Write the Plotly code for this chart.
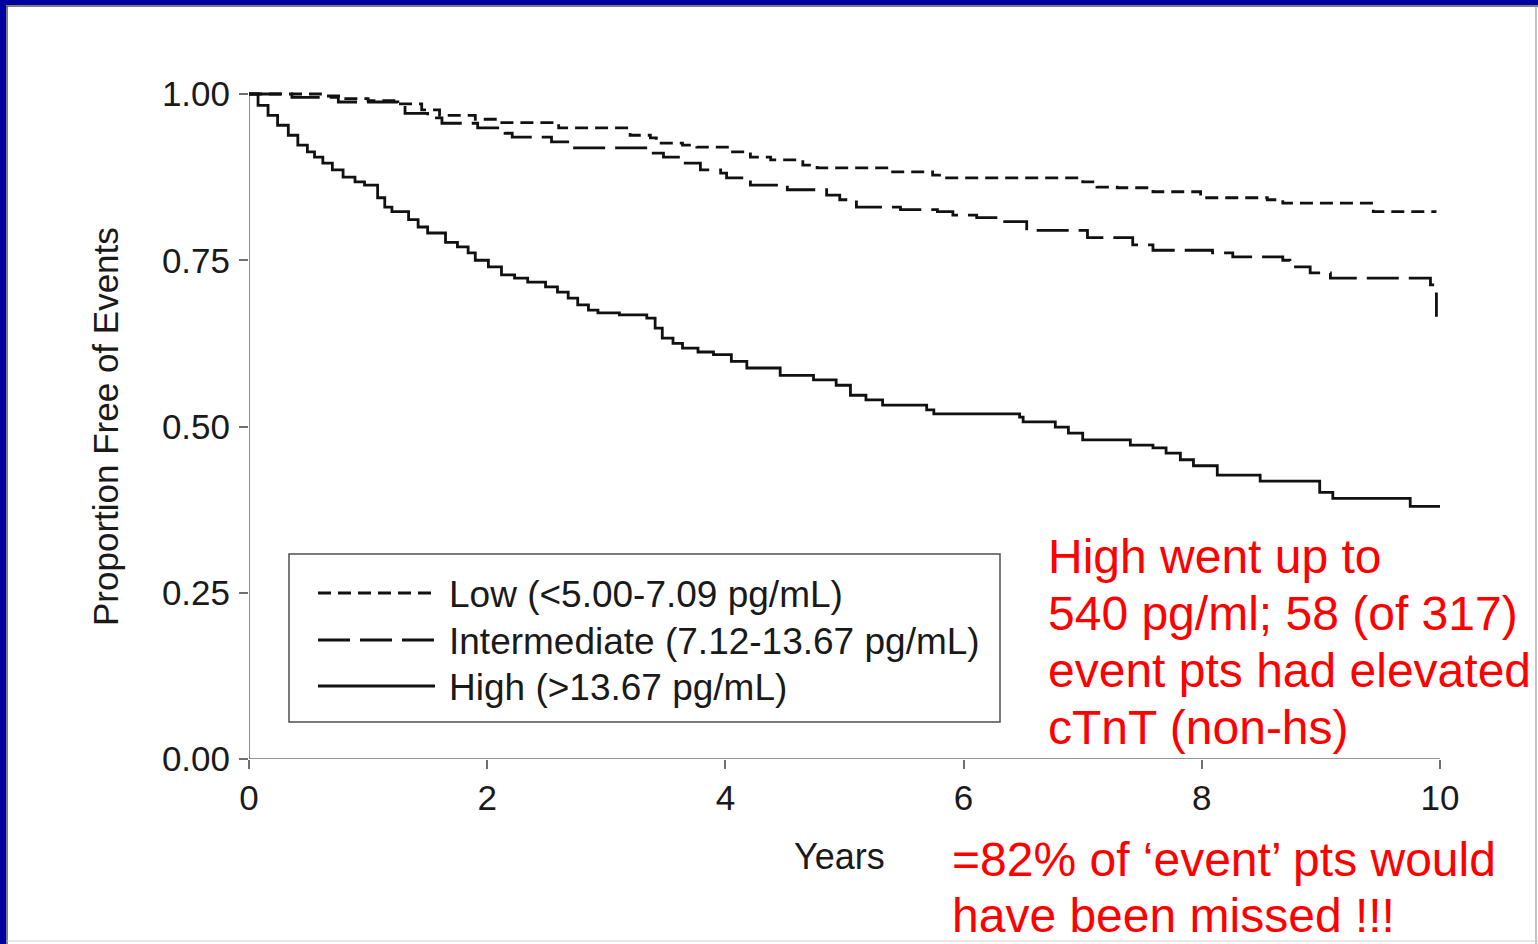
import plotly.graph_objects as go

# ---------------- data ----------------
years_ticks = [0, 2, 4, 6, 8, 10]
prop_ticks = [0.0, 0.25, 0.50, 0.75, 1.00]
prop_tick_labels = ["0.00", "0.25", "0.50", "0.75", "1.00"]

low_t = [0, 0.6, 0.8, 1.0, 1.25, 1.45, 1.6, 1.9, 2.1, 2.6, 3.2, 3.37, 3.42, 3.64, 3.76,
         4.04, 4.21, 4.38, 4.65, 4.77, 5.38, 5.74, 5.83, 7.0, 7.12, 7.29, 7.59, 7.99,
         8.55, 8.68, 9.44, 9.97]
low_s = [1.0, 0.997, 0.993, 0.99, 0.985, 0.976, 0.968, 0.962, 0.957, 0.949, 0.938, 0.934,
         0.926, 0.923, 0.920, 0.913, 0.905, 0.901, 0.893, 0.889, 0.883, 0.878, 0.874,
         0.868, 0.860, 0.859, 0.853, 0.844, 0.841, 0.836, 0.823, 0.823]

int_t = [0, 0.36, 0.75, 1.25, 1.31, 1.5, 1.62, 1.92, 2.15, 2.21, 2.54, 2.71, 3.37, 3.48,
         3.64, 3.79, 3.96, 4.01, 4.21, 4.52, 4.85, 4.96, 5.10, 5.47, 5.78, 5.91, 6.11,
         6.31, 6.53, 7.04, 7.42, 7.59, 8.09, 8.26, 8.68, 8.74, 8.91, 9.08, 9.92, 9.97]
int_s = [1.0, 0.995, 0.988, 0.980, 0.971, 0.964, 0.956, 0.949, 0.941, 0.935, 0.928, 0.919,
         0.911, 0.905, 0.896, 0.886, 0.881, 0.874, 0.863, 0.856, 0.848, 0.841, 0.830,
         0.826, 0.823, 0.818, 0.814, 0.808, 0.795, 0.784, 0.773, 0.765, 0.761, 0.755,
         0.750, 0.740, 0.731, 0.723, 0.713, 0.665]

high_t = [0, 0.076, 0.16, 0.24, 0.33, 0.41, 0.49, 0.55, 0.62, 0.70, 0.79, 0.89, 0.97,
          1.08, 1.14, 1.20, 1.34, 1.42, 1.50, 1.65, 1.75, 1.84, 1.90, 2.01, 2.12, 2.23,
          2.34, 2.49, 2.59, 2.68, 2.76, 2.85, 2.93, 3.11, 3.34, 3.41, 3.47, 3.56, 3.64,
          3.77, 3.90, 4.05, 4.18, 4.46, 4.74, 4.93, 5.05, 5.18, 5.32, 5.69, 5.75, 6.47,
          6.50, 6.77, 6.88, 7.00, 7.40, 7.59, 7.70, 7.82, 7.93, 8.13, 8.49, 8.99, 9.10,
          9.75, 10.0]
high_s = [1.0, 0.983, 0.968, 0.953, 0.938, 0.923, 0.913, 0.905, 0.896, 0.886, 0.875,
          0.868, 0.863, 0.844, 0.830, 0.823, 0.811, 0.800, 0.791, 0.777, 0.770, 0.761,
          0.750, 0.740, 0.728, 0.723, 0.717, 0.710, 0.702, 0.693, 0.683, 0.675, 0.671,
          0.668, 0.663, 0.648, 0.633, 0.625, 0.618, 0.612, 0.608, 0.598, 0.588, 0.577,
          0.570, 0.562, 0.547, 0.540, 0.532, 0.525, 0.519, 0.514, 0.507, 0.499, 0.490,
          0.480, 0.472, 0.468, 0.460, 0.450, 0.441, 0.427, 0.418, 0.401, 0.392, 0.380,
          0.380]

series_names = ["Low (<5.00-7.09 pg/mL)",
                "Intermediate (7.12-13.67 pg/mL)",
                "High (>13.67 pg/mL)"]

note1 = ["High went up to", "540 pg/ml; 58 (of 317)", "event pts had elevated", "cTnT (non-hs)"]
note2 = ["=82% of \u2018event\u2019 pts would", "have been missed !!!"]

# ---------------- styling ----------------
W, H = 1538, 944
FONT = "Liberation Sans, Arial, Helvetica, sans-serif"
INK = "#1a1a1a"
AXIS = "#707070"
NAVY = "#0000a0"
DASH_LOW = "13px,7px"
DASH_INT = "32px,10px"
LW = 2.8


def px(x):
    return x / W


def py(y):
    return 1 - y / H


Y_TOP_PAD = (94 - 86) / 665.0

fig = go.Figure()
for t, s, dash, name in [(low_t, low_s, DASH_LOW, series_names[0]),
                         (int_t, int_s, DASH_INT, series_names[1]),
                         (high_t, high_s, "solid", series_names[2])]:
    fig.add_trace(go.Scatter(x=t, y=s, mode="lines", name=name,
                             line=dict(color="#111111", width=LW, dash=dash, shape="hv"),
                             hoverinfo="skip"))

shapes = []
# slide frame
shapes.append(dict(type="rect", xref="paper", yref="paper", x0=0, x1=1, y0=py(5), y1=1,
                   fillcolor=NAVY, line=dict(width=0), layer="above"))
shapes.append(dict(type="rect", xref="paper", yref="paper", x0=0, x1=px(6), y0=0, y1=1,
                   fillcolor=NAVY, line=dict(width=0), layer="above"))
shapes.append(dict(type="line", xref="paper", yref="paper", x0=px(6), x1=1, y0=py(6), y1=py(6),
                   line=dict(color="#555555", width=1.5), layer="above"))
shapes.append(dict(type="line", xref="paper", yref="paper", x0=px(7), x1=px(7), y0=0, y1=py(6),
                   line=dict(color="#555555", width=1.5), layer="above"))
shapes.append(dict(type="line", xref="paper", yref="paper", x0=px(1536), x1=px(1536), y0=0, y1=py(6),
                   line=dict(color="#9a9a9a", width=1.2), layer="above"))
shapes.append(dict(type="line", xref="paper", yref="paper", x0=px(7), x1=1, y0=py(941), y1=py(941),
                   line=dict(color="#d0d0d0", width=1.2), layer="above"))
# axis lines
shapes.append(dict(type="line", xref="x", yref="y", x0=0, x1=0, y0=0, y1=1,
                   line=dict(color=AXIS, width=1.6), layer="below"))
shapes.append(dict(type="line", xref="x", yref="y", x0=0, x1=10, y0=0, y1=0,
                   line=dict(color=AXIS, width=1.6), layer="below"))
# legend box
shapes.append(dict(type="rect", xref="paper", yref="paper", x0=px(289), x1=px(1000),
                   y0=py(722), y1=py(554), line=dict(color="#505050", width=1.5),
                   fillcolor="white", layer="above"))
legend_rows = [593, 640, 686]
for yy, dash in zip(legend_rows, [DASH_LOW, DASH_INT, "solid"]):
    shapes.append(dict(type="line", xref="paper", yref="paper", x0=px(318), x1=px(435),
                       y0=py(yy), y1=py(yy), line=dict(color="#111111", width=LW, dash=dash),
                       layer="above"))

annotations = []
for yy, name in zip(legend_rows, series_names):
    annotations.append(dict(xref="paper", yref="paper", x=px(447), y=py(yy + 1), text=name,
                            showarrow=False, xanchor="left", yanchor="middle",
                            font=dict(family=FONT, size=37, color=INK)))
# axis titles
annotations.append(dict(xref="paper", yref="paper", x=px(839), y=py(856), text="Years",
                        showarrow=False, xanchor="center", yanchor="middle",
                        font=dict(family=FONT, size=36, color=INK)))
annotations.append(dict(xref="paper", yref="paper", x=px(105), y=py(427),
                        text="Proportion Free of Events", textangle=-90,
                        showarrow=False, xanchor="center", yanchor="middle",
                        font=dict(family=FONT, size=35, color=INK)))
# red notes
for i, line in enumerate(note1):
    annotations.append(dict(xref="paper", yref="paper", x=px(1046), y=py(556 + 57 * i), text=line,
                            showarrow=False, xanchor="left", yanchor="middle",
                            font=dict(family=FONT, size=48, color="#ff0000")))
for i, line in enumerate(note2):
    annotations.append(dict(xref="paper", yref="paper", x=px(950), y=py(859 + 56 * i), text=line,
                            showarrow=False, xanchor="left", yanchor="middle",
                            font=dict(family=FONT, size=48, color="#ff0000")))

fig.update_layout(
    width=W, height=H, autosize=False,
    margin=dict(l=0, r=0, t=0, b=0, pad=0),
    paper_bgcolor="white", plot_bgcolor="white",
    showlegend=False,
    xaxis=dict(domain=[px(249), px(1440)], range=[0, 10], tickvals=years_ticks,
               ticktext=[str(v) for v in years_ticks], ticks="outside", ticklen=9,
               tickwidth=1.6, tickcolor=AXIS, showgrid=False, zeroline=False, showline=False,
               ticklabelstandoff=-1, automargin=False,
               tickfont=dict(family=FONT, size=35, color=INK)),
    yaxis=dict(domain=[py(759), py(86)], range=[0, 1.0 + Y_TOP_PAD], tickvals=prop_ticks,
               ticktext=prop_tick_labels, ticks="outside", ticklen=9, tickwidth=1.6,
               tickcolor=AXIS, showgrid=False, zeroline=False, showline=False,
               ticklabelstandoff=2, automargin=False,
               tickfont=dict(family=FONT, size=35, color=INK)),
    shapes=shapes,
    annotations=annotations,
)

fig.write_html(
    "out.html",
    post_script="document.body.style.margin='0';document.body.style.overflow='hidden';",
)
